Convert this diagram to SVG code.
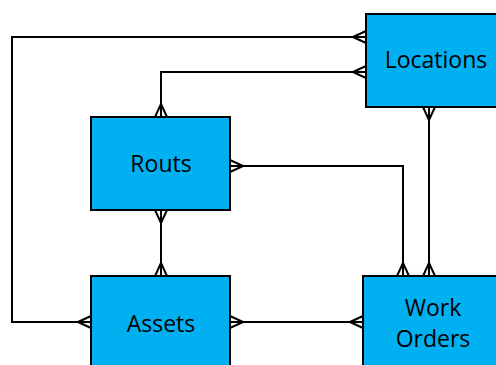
<svg xmlns="http://www.w3.org/2000/svg" width="496" height="365" viewBox="0 0 496 365">
<style>
.box{fill:#00B0F0;stroke:#000;stroke-width:2}
.lbl{font-family:"Open Sans","Noto Sans",sans-serif;font-size:23px;fill:#000;text-anchor:middle}
.conn{fill:none;stroke:#000;stroke-width:2;marker-start:url(#crow);marker-end:url(#crow)}
</style>
<defs>
<marker id="crow" markerUnits="userSpaceOnUse" viewBox="-15 -8 16 16" refX="0" refY="0" markerWidth="16" markerHeight="16" orient="auto-start-reverse" overflow="visible">
<path d="M -13 0 L 0 -6 M -13 0 L 0 6" fill="none" stroke="#000" stroke-width="2"/>
</marker>
</defs>
<g id="connectors">
<path class="conn" d="M 91 322 H 12 V 37 H 366"/>
<path class="conn" d="M 161 117 V 72 H 366"/>
<path class="conn" d="M 230 166 H 403 V 276"/>
<path class="conn" d="M 429 107 V 276"/>
<path class="conn" d="M 161 210 V 276"/>
<path class="conn" d="M 230 322 H 363"/>
</g>
<g id="locations">
<rect class="box" x="366" y="14" width="140" height="93"/>
<text class="lbl" x="436" y="68">Locations</text>
</g>
<g id="routs">
<rect class="box" x="91" y="117" width="139" height="93"/>
<text class="lbl" x="161" y="172">Routs</text>
</g>
<g id="assets">
<rect class="box" x="91" y="276" width="139" height="100"/>
<text class="lbl" x="161" y="332">Assets</text>
</g>
<g id="work-orders">
<rect class="box" x="363" y="276" width="140" height="100"/>
<text class="lbl" x="433" y="316">Work</text>
<text class="lbl" x="433" y="347">Orders</text>
</g>
</svg>
